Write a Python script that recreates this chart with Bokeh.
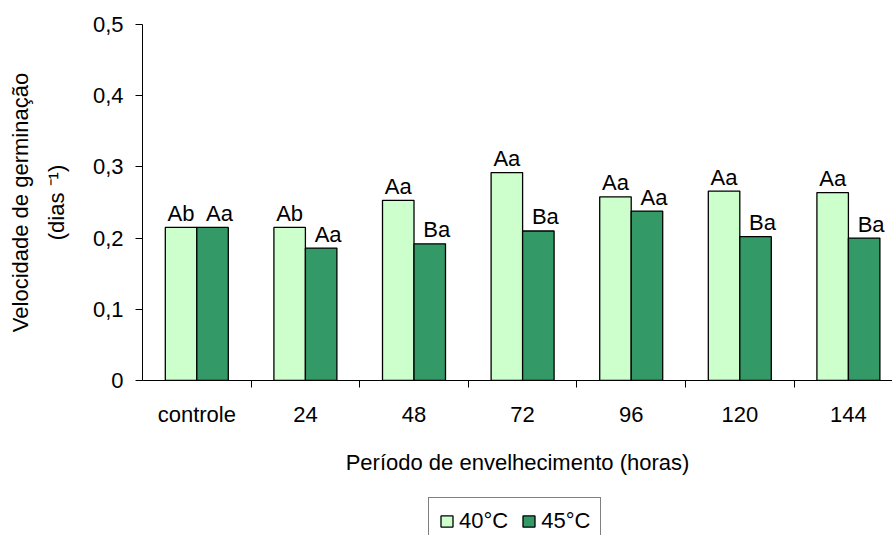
from bokeh.plotting import figure
from bokeh.layouts import column
from bokeh.models import (Range1d, FixedTicker, CustomJSTickFormatter, Legend, LegendItem,
                          ColumnDataSource)
from bokeh.transform import dodge
from bokeh.core.properties import value
from bokeh.embed import file_html
from bokeh.resources import INLINE

categories = ["controle", "24", "48", "72", "96", "120", "144"]
series_names = ["40°C", "45°C"]
vel_40 = [0.215, 0.215, 0.253, 0.292, 0.258, 0.266, 0.264]
vel_45 = [0.215, 0.186, 0.192, 0.210, 0.238, 0.202, 0.200]
labels_40 = ["Ab", "Ab", "Aa", "Aa", "Aa", "Aa", "Aa"]
labels_45 = ["Aa", "Aa", "Ba", "Ba", "Aa", "Ba", "Ba"]
y_ticks = [0, 0.1, 0.2, 0.3, 0.4, 0.5]

FONT = "Liberation Sans"
FS = "22px"
C40 = "#CCFFCC"
C45 = "#339966"

n = len(categories)
centers = [i + 0.5 for i in range(n)]
src = ColumnDataSource(dict(x=centers, v40=vel_40, v45=vel_45, l40=labels_40, l45=labels_45))

p = figure(width=892, height=497, x_range=Range1d(0, 6.906), y_range=Range1d(0, 0.5),
           output_backend="svg", toolbar_location=None,
           min_border_left=142, min_border_right=0, min_border_top=24, min_border_bottom=117)
p.outline_line_color = None
p.xgrid.grid_line_color = None
p.ygrid.grid_line_color = None

bw = 0.29
r40 = p.vbar(x=dodge("x", -bw / 2, range=p.x_range), top="v40", width=bw, bottom=0, source=src,
             fill_color=C40, line_color="black", line_width=1.3)
r45 = p.vbar(x=dodge("x", bw / 2, range=p.x_range), top="v45", width=bw, bottom=0, source=src,
             fill_color=C45, line_color="black", line_width=1.3)

p.text(x=dodge("x", -bw / 2, range=p.x_range), y="v40", text="l40", source=src,
       text_font=value(FONT), text_font_size=FS, text_align="center", text_baseline="alphabetic",
       y_offset=-14, text_color="black")
p.text(x=dodge("x", bw / 2, range=p.x_range), y="v45", text="l45", source=src,
       text_font=value(FONT), text_font_size=FS, text_align="center", text_baseline="alphabetic",
       y_offset=-14, x_offset=7, text_color="black")

# x axis
xa = p.xaxis[0]
xa.ticker = FixedTicker(ticks=centers, minor_ticks=[i for i in range(1, n)])
xa.formatter = CustomJSTickFormatter(args=dict(labels=categories),
                                     code="const i = Math.floor(tick); return labels[i] ?? '';")
xa.major_tick_line_color = None
xa.major_tick_out = 0
xa.major_tick_in = 0
xa.minor_tick_line_color = "black"
xa.minor_tick_out = 7
xa.minor_tick_in = 0
xa.axis_line_color = "black"
xa.major_label_text_font = FONT
xa.major_label_text_font_size = FS
xa.major_label_text_color = "black"
xa.major_label_standoff = 14
xa.axis_label = "Período de envelhecimento (horas)"
xa.axis_label_text_font = FONT
xa.axis_label_text_font_size = FS
xa.axis_label_text_font_style = "normal"
xa.axis_label_text_color = "black"
xa.axis_label_standoff = 20

# y axis
ya = p.yaxis[0]
ya.ticker = FixedTicker(ticks=y_ticks, minor_ticks=[])
ya.formatter = CustomJSTickFormatter(code="return tick == 0 ? '0' : tick.toFixed(1).replace('.', ',');")
ya.major_tick_out = 7
ya.major_tick_in = 0
ya.minor_tick_line_color = None
ya.axis_line_color = "black"
ya.major_tick_line_color = "black"
ya.major_label_text_font = FONT
ya.major_label_text_font_size = FS
ya.major_label_text_color = "black"
ya.major_label_standoff = 12
ya.axis_label = "Velocidade de germinação\n(dias \u207b\u00b9)"
ya.axis_label_text_font = FONT
ya.axis_label_text_font_size = FS
ya.axis_label_text_font_style = "normal"
ya.axis_label_text_color = "black"
ya.axis_label_text_line_height = 1.45
ya.axis_label_standoff = 21

# legend strip below the chart (its frame is aligned with the chart's frame);
# its source renderers fall outside the view, behind the legend box
pl = figure(width=892, height=38, x_range=Range1d(-15, 22.5), y_range=Range1d(2, 3),
            output_backend="svg", toolbar_location=None,
            x_axis_location=None, y_axis_location=None, min_border=0)
pl.outline_line_color = None
pl.xgrid.grid_line_color = None
pl.ygrid.grid_line_color = None
d40 = pl.vbar(x="x", top="v40", width=bw, bottom=0, source=src,
              fill_color=C40, line_color="black", line_width=1.3)
d45 = pl.vbar(x="x", top="v45", width=bw, bottom=0, source=src,
              fill_color=C45, line_color="black", line_width=1.3)
legend = Legend(items=[LegendItem(label=series_names[0], renderers=[d40], index=0),
                       LegendItem(label=series_names[1], renderers=[d45], index=0)],
                orientation="horizontal", location=(286, -10),
                label_text_font=FONT, label_text_font_size=FS, label_text_color="black",
                glyph_width=15, glyph_height=14, label_standoff=5, spacing=13,
                label_height=26, padding=10, margin=0,
                border_line_color="black", border_line_width=1.3,
                background_fill_color="white", background_fill_alpha=1.0)
pl.add_layout(legend, "center")

layout = column(p, pl, spacing=0)
open("out.html", "w").write(file_html(layout, INLINE))
